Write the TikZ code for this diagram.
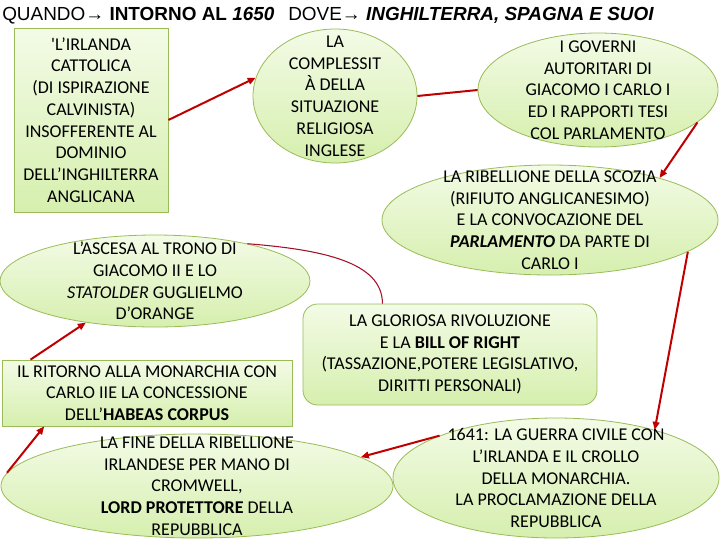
\documentclass[tikz,border=0pt]{standalone}
\usepackage{fontspec}
\setmainfont{Carlito}
\newfontfamily\titlefont{Liberation Sans}
\usepackage{tikz}
\usetikzlibrary{shapes.geometric,arrows.meta}
\definecolor{gline}{HTML}{9BBB59}
\definecolor{gtop}{HTML}{F3FBE6}
\definecolor{gbot}{HTML}{D6EFAE}
\definecolor{redwire}{HTML}{C00000}
\definecolor{redthin}{HTML}{A3102A}
\newdimen\pxu \pxu=0.75pt

\begin{document}
\begin{tikzpicture}[x=0.75pt, y=-0.75pt,
	blob/.style={ellipse, draw=gline, line width=0.6pt, top color=gtop, bottom color=gbot, inner sep=0pt},
	panel/.style={rectangle, draw=gline, line width=0.6pt, top color=gtop, bottom color=gbot, inner sep=0pt},
	txt/.style={align=center, inner sep=0pt, font=\fontsize{13.5}{16.3}\selectfont},
	heading/.style={anchor=base west, inner sep=0pt, font=\titlefont\fontsize{14.2}{16}\selectfont},
	link/.style={draw=redwire, line width=1.5pt, -{Triangle[length=6pt, width=5pt]}},
	plainlink/.style={draw=redwire, line width=1.5pt},
	thinlink/.style={draw=redthin, line width=0.8pt}]
	\useasboundingbox (0, 0) rectangle (720, 540);
	% Shapes, texts and arrows:
	\node[heading] (quando) at (2, 20) {QUANDO→ \textbf{INTORNO AL \textit{1650}}};
	\node[heading] (dove) at (288, 20) {DOVE→ \textbf{\textit{INGHILTERRA, SPAGNA E SUOI}}};
	\node[panel, minimum width=154\pxu, minimum height=184\pxu] (irlanda) at (91, 120) {};
	\node[txt] (irlanda-t) at (irlanda.center) {\textquotesingle L’IRLANDA\\CATTOLICA\\(DI ISPIRAZIONE\\CALVINISTA)\\INSOFFERENTE AL\\DOMINIO\\DELL’INGHILTERRA\\ANGLICANA};
	\node[blob, minimum width=164\pxu, minimum height=134\pxu] (compless) at (335, 96) {};
	\node[txt] (compless-t) at (compless.center) {LA\\COMPLESSIT\\À DELLA\\SITUAZIONE\\RELIGIOSA\\INGLESE};
	\node[blob, minimum width=240\pxu, minimum height=114\pxu] (governi) at (598, 90) {};
	\node[txt] (governi-t) at (governi.center) {I GOVERNI\\AUTORITARI DI\\GIACOMO I CARLO I\\ED I RAPPORTI TESI\\COL PARLAMENTO};
	\node[blob, minimum width=336\pxu, minimum height=110\pxu] (scozia) at (550, 220) {};
	\node[txt] (scozia-t) at (scozia.center) {LA RIBELLIONE DELLA SCOZIA\\(RIFIUTO ANGLICANESIMO)\\E LA CONVOCAZIONE DEL\\\textbf{\textit{PARLAMENTO}} DA PARTE DI\\CARLO I};
	\node[blob, minimum width=310\pxu, minimum height=92\pxu] (ascesa) at (155, 281) {};
	\node[txt] (ascesa-t) at (ascesa.center) {L’ASCESA AL TRONO DI\\GIACOMO II E LO\\\textit{STATOLDER} GUGLIELMO\\D’ORANGE};
	\node[panel, rounded corners=11pt, minimum width=294\pxu, minimum height=101\pxu] (gloriosa) at (450, 354.5) {};
	\node[txt] (gloriosa-t) at (gloriosa.center) {LA GLORIOSA RIVOLUZIONE\\E LA \textbf{BILL OF RIGHT}\\(TASSAZIONE,POTERE LEGISLATIVO,\\DIRITTI PERSONALI)};
	\node[panel, minimum width=290\pxu, minimum height=66\pxu] (ritorno) at (147, 393) {};
	\node[txt] (ritorno-t) at (ritorno.center) {IL RITORNO ALLA MONARCHIA CON\\CARLO IIE LA CONCESSIONE\\DELL’\textbf{HABEAS CORPUS}};
	\node[blob, minimum width=392\pxu, minimum height=104\pxu] (cromwell) at (197, 486) {};
	\node[txt] (cromwell-t) at (cromwell.center) {LA FINE DELLA RIBELLIONE\\IRLANDESE PER MANO DI\\CROMWELL,\\\textbf{LORD PROTETTORE} DELLA\\REPUBBLICA};
	\node[blob, minimum width=326\pxu, minimum height=120\pxu] (guerra) at (556, 478) {};
	\node[txt] (guerra-t) at (guerra.center) {1641: LA GUERRA CIVILE CON\\L’IRLANDA E IL CROLLO\\DELLA MONARCHIA.\\LA PROCLAMAZIONE DELLA\\REPUBBLICA};
	\draw[link] (irlanda.east) -- (compless.167);
	\draw[plainlink] (compless.east) -- (governi.west);
	\draw[link] (governi.-18) -- (scozia.21);
	\draw[link] (scozia.-13) -- (guerra.26);
	\draw[link] (guerra.160) -- (cromwell.10);
	\draw[link] (cromwell.176) -- (ritorno.198);
	\draw[link] (ritorno.164) -- (ascesa.211);
	\draw[thinlink] (ascesa.22) .. controls +(74, 6) and +(0, -42) .. (gloriosa.143);
\end{tikzpicture}
\end{document}
